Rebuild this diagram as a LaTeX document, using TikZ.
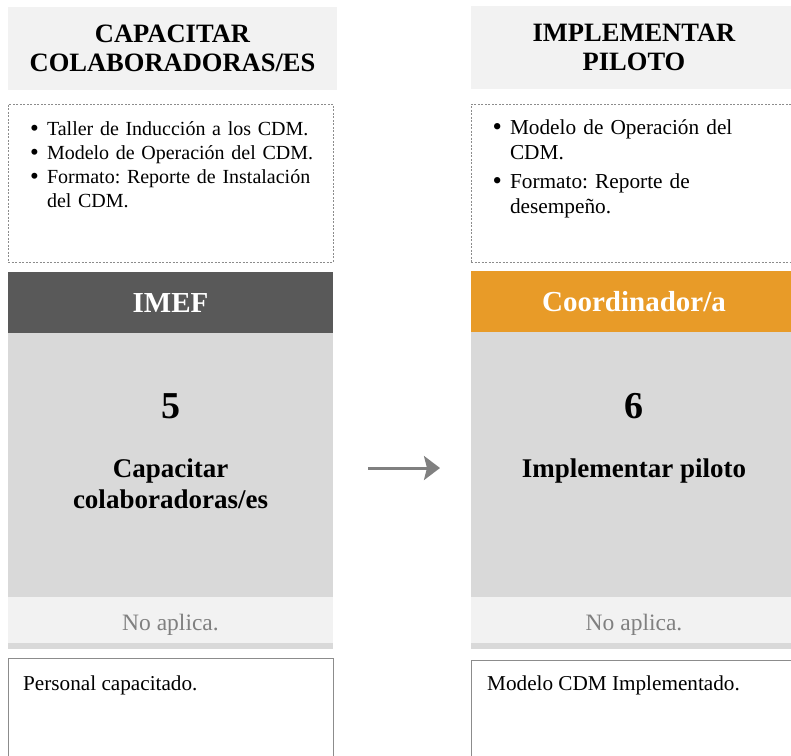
\documentclass[tikz,border=0pt]{standalone}
\usepackage{fontspec}
\setmainfont{Liberation Serif}
\usepackage{enumitem}
\usetikzlibrary{arrows.meta,positioning}

\definecolor{grisclaro}{HTML}{F2F2F2}
\definecolor{grismedio}{HTML}{D9D9D9}
\definecolor{grisoscuro}{HTML}{595959}
\definecolor{naranja}{HTML}{E89B28}
\definecolor{grisborde}{HTML}{8C8C8C}
\definecolor{gristexto}{HTML}{808080}

\frenchspacing
\setlist[itemize]{label=\raisebox{-1.3pt}{\scalebox{1.25}{\textbullet}}, leftmargin=27pt, labelsep=8pt,
  topsep=0pt, partopsep=0pt, itemsep=0pt, parsep=0pt,
  before=\raggedright}

\begin{document}
\begin{tikzpicture}[
    x=1pt, y=-1pt,
    >={Stealth[length=16pt,width=24pt,inset=3pt]},
    caja/.style={inner sep=0pt, outer sep=0pt, anchor=north west},
    titulo/.style={caja, fill=grisclaro, align=center, minimum height=83,
                   font=\fontsize{26.5}{29}\selectfont\bfseries},
    marco/.style={caja, draw=grisborde, dash pattern=on 2pt off 1.5pt, minimum height=158},
    lista/.style={caja, text width=310pt, align=left},
    rol/.style={caja, minimum height=61, text=white, font=\fontsize{29}{33}\selectfont\bfseries},
    cuerpo/.style={caja, fill=grismedio, minimum height=317},
    banda/.style={caja, fill=grisclaro, minimum height=46},
    resultado/.style={caja, draw=grisborde, line width=1pt, minimum height=120},
    negrita/.style={inner sep=0pt, align=center, font=\fontsize{27}{31}\selectfont\bfseries},
    numero/.style={inner sep=0pt, anchor=base, font=\fontsize{38}{40}\selectfont\bfseries},
    noaplica/.style={inner sep=0pt, anchor=base, text=gristexto, font=\fontsize{23.5}{26}\selectfont},
    normal/.style={inner sep=0pt, anchor=base west, font=\fontsize{21.2}{24}\selectfont},
    flecha/.style={->, line width=3pt, draw=gristexto}
  ]
  \useasboundingbox (0,0) rectangle (791,755);
  \clip (0,0) rectangle (791,755);

  % Columna 5 (izquierda)
  \node[titulo, minimum width=329] (tit5) at (8,7) {CAPACITAR\\COLABORADORAS/ES};
  \node[marco, minimum width=325] (marco5) at (8,104) {};
  \node[lista, font=\fontsize{20}{24}\selectfont] (lista5) at (20,111) {%
    \begin{itemize}
      \item Taller de Inducción a los CDM.
      \item Modelo de Operación del CDM.
      \item Formato: Reporte de Instalación\newline del CDM.
    \end{itemize}};
  \node[cuerpo, minimum width=325] (cuerpo5) at (8,332) {};
  \node[rol, fill=grisoscuro, minimum width=325] (rol5) at (8,272) {IMEF};
  \node[numero] (num5) at (170.5,418) {5};
  \node[negrita, anchor=north] (act5) at (170.5,458.5) {Capacitar\\colaboradoras/es};
  \node[banda, minimum width=325] (banda5) at (8,597) {};
  \node[noaplica] (na5) at (banda5.center |- 0,630) {No aplica.};
  \node[resultado, minimum width=325] (res5) at (8,658) {};
  \node[normal] (rt5) at (23,690) {Personal capacitado.};

  % Columna 6 (derecha)
  \node[titulo, minimum width=326] (tit6) at (471,6) {IMPLEMENTAR\\PILOTO};
  \node[marco, minimum width=326] (marco6) at (471,104) {};
  \node[lista, font=\fontsize{21.3}{24.5}\selectfont] (lista6) at (483,110) {%
    \begin{itemize}[itemsep=5pt]
      \item Modelo de Operación del\newline CDM.
      \item Formato: Reporte de\newline desempeño.
    \end{itemize}};
  \node[cuerpo, minimum width=326] (cuerpo6) at (471,332) {};
  \node[rol, fill=naranja, minimum width=326] (rol6) at (471,271) {Coordinador/a};
  \node[numero] (num6) at (634,418) {6};
  \node[negrita, anchor=base] (act6) at (634,477) {Implementar piloto};
  \node[banda, minimum width=326] (banda6) at (471,597) {};
  \node[noaplica] (na6) at (banda6.center |- 0,630) {No aplica.};
  \node[resultado, minimum width=326] (res6) at (471,660) {};
  \node[normal] (rt6) at (487,690) {Modelo CDM Implementado.};

  % Flecha entre actividades
  \draw[flecha, shorten <=35pt, shorten >=31pt]
    ([yshift=22.5pt]cuerpo5.east) -- ([yshift=22.5pt]cuerpo6.west);

\end{tikzpicture}
\end{document}
